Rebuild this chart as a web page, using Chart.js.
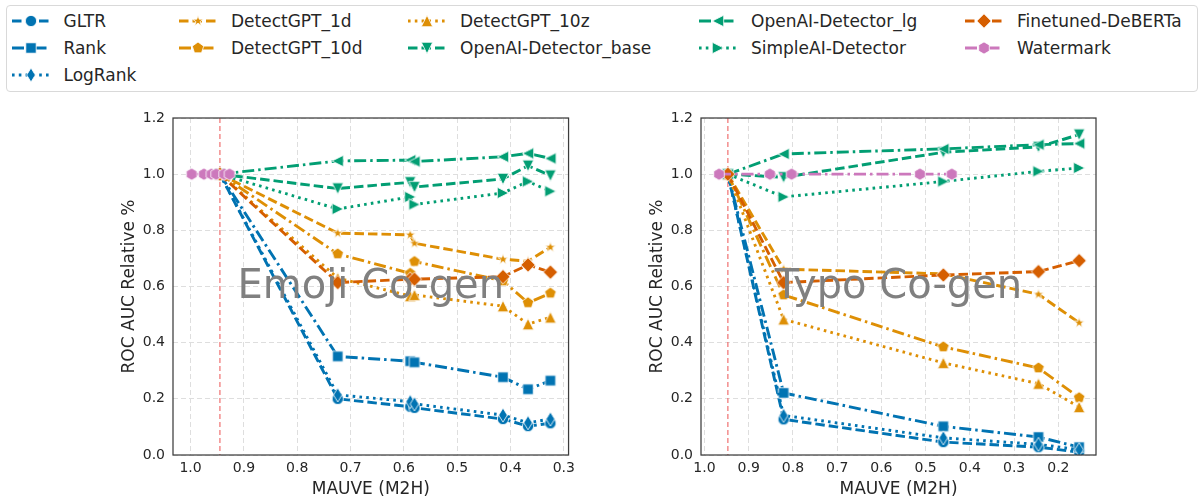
<!DOCTYPE html>
<html>
<head>
<meta charset="utf-8">
<script src="https://cdn.jsdelivr.net/npm/chart.js@4.4.1/dist/chart.umd.min.js"></script>
<style>
html,body{margin:0;padding:0;background:#fff;}
body{width:1203px;height:504px;position:relative;overflow:hidden;font-family:"DejaVu Sans",sans-serif;}
#legendBox{position:absolute;left:6px;top:5px;width:1192px;height:87px;border:1px solid #d9d9d9;border-radius:4px;box-sizing:border-box;}
.lg-item{position:absolute;height:24px;}
.lg-item canvas{position:absolute;left:0;top:0;}
.lg-item span{position:absolute;top:0;line-height:24px;font-size:17px;color:#262626;white-space:nowrap;font-family:"DejaVu Sans",sans-serif;}
.panel{position:absolute;top:100px;}
</style>
</head>
<body>
<div id="legendBox"></div>
<div id="legendItems"></div>
<canvas id="c1" class="panel" width="480" height="404" style="left:100px"></canvas>
<canvas id="c2" class="panel" width="480" height="404" style="left:628px"></canvas>
<script>
// ---------------- DATA ----------------
const SERIES = ['GLTR','Rank','LogRank','DetectGPT_1d','DetectGPT_10d','DetectGPT_10z',
  'OpenAI-Detector_base','OpenAI-Detector_lg','SimpleAI-Detector','Finetuned-DeBERTa','Watermark'];
const PANEL_LABELS = ['Emoji Co-gen','Typo Co-gen'];
const X_TITLE = 'MAUVE (M2H)';
const Y_TITLE = 'ROC AUC Relative %';
const EMOJI_X_TICKS = [1.0,0.9,0.8,0.7,0.6,0.5,0.4,0.3];
const TYPO_X_TICKS = [1.0,0.9,0.8,0.7,0.6,0.5,0.4,0.3,0.2];
const Y_TICKS = [0.0,0.2,0.4,0.6,0.8,1.0,1.2];
const HUMAN_MAUVE_EMOJI = 0.945;
const HUMAN_MAUVE_TYPO = 0.947;

// Emoji co-generation panel
const EMOJI_MAUVE = [0.945, 0.724, 0.588, 0.580, 0.414, 0.367, 0.325];
const EMOJI_WM_MAUVE = [0.998, 0.975, 0.961, 0.952, 0.937, 0.927];
const EMOJI_GLTR    = [1.0, 0.200, 0.172, 0.168, 0.128, 0.103, 0.113];
const EMOJI_RANK    = [1.0, 0.351, 0.334, 0.330, 0.277, 0.234, 0.265];
const EMOJI_LOGRANK = [1.0, 0.214, 0.190, 0.182, 0.142, 0.115, 0.128];
const EMOJI_DGPT_1D = [1.0, 0.790, 0.784, 0.754, 0.697, 0.690, 0.740];
const EMOJI_DGPT_10D= [1.0, 0.716, 0.647, 0.689, 0.620, 0.542, 0.576];
const EMOJI_DGPT_10Z= [1.0, 0.630, 0.566, 0.570, 0.530, 0.466, 0.490];
const EMOJI_OAI_BASE= [1.0, 0.949, 0.971, 0.954, 0.983, 1.030, 0.995];
const EMOJI_OAI_LG  = [1.0, 1.047, 1.050, 1.045, 1.062, 1.074, 1.056];
const EMOJI_SIMPLEAI= [1.0, 0.876, 0.919, 0.892, 0.933, 0.974, 0.939];
const EMOJI_DEBERTA = [1.0, 0.614, 0.626, 0.626, 0.635, 0.677, 0.651];
const EMOJI_WATERMARK=[1.0, 1.0, 1.0, 1.0, 1.0, 1.0];

// Typo co-generation panel
const TYPO_MAUVE = [0.947, 0.821, 0.460, 0.245, 0.153];
const TYPO_WM_MAUVE = [0.967, 0.852, 0.803, 0.513, 0.441];
const TYPO_GLTR    = [1.0, 0.127, 0.046, 0.028, 0.010];
const TYPO_RANK    = [1.0, 0.221, 0.102, 0.064, 0.028];
const TYPO_LOGRANK = [1.0, 0.141, 0.061, 0.038, 0.019];
const TYPO_DGPT_1D = [1.0, 0.662, 0.645, 0.572, 0.471];
const TYPO_DGPT_10D= [1.0, 0.570, 0.385, 0.310, 0.204];
const TYPO_DGPT_10Z= [1.0, 0.483, 0.328, 0.254, 0.171];
const TYPO_OAI_BASE= [1.0, 0.989, 1.078, 1.097, 1.141];
const TYPO_OAI_LG  = [1.0, 1.072, 1.090, 1.105, 1.109];
const TYPO_SIMPLEAI= [1.0, 0.919, 0.974, 1.010, 1.022];
const TYPO_DEBERTA = [1.0, 0.614, 0.641, 0.653, 0.692];
const TYPO_WATERMARK=[1.0, 1.0, 1.0, 1.0, 1.0];

// ---------------- STYLE ----------------
const FONT = '"DejaVu Sans", sans-serif';
const TEXT_COLOR = '#262626';
const COLORS = ['#0173B2','#0173B2','#0173B2','#DE8F05','#DE8F05','#DE8F05','#029E73','#029E73','#029E73','#D55E00','#CC78BC'];
const MARKERS = ['circle','square','thinDiamond','star','pentagon','triangleUp','triangleDown','triangleLeft','triangleRight','diamond','hexagon'];
const LINESTYLES = ['dashed','dashdot','dotted','dashed','dashdot','dotted','dashed','dashdot','dotted','dashed','dashdot'];
const DASHES = {dashed:[9.5,4], dashdot:[12,4,2.5,4], dotted:[2.6,4.2]};
const LINE_W = 2.9;

function poly(ctx, pts){ ctx.moveTo(pts[0][0],pts[0][1]); for(let i=1;i<pts.length;i++) ctx.lineTo(pts[i][0],pts[i][1]); ctx.closePath(); }
function regular(ctx, c, n, R, startDeg){ const pts=[]; for(let i=0;i<n;i++){ const a=(startDeg+i*360/n)*Math.PI/180; pts.push([c+R*Math.cos(a), c+R*Math.sin(a)]);} poly(ctx,pts); }
function makeMarker(shape, color){
  const S = 20, c = S/2;
  const cv = document.createElement('canvas'); cv.width=S; cv.height=S;
  const ctx = cv.getContext('2d');
  ctx.beginPath();
  switch(shape){
    case 'circle': ctx.arc(c,c,5.6,0,Math.PI*2); break;
    case 'square': ctx.rect(c-5.2,c-5.2,10.4,10.4); break;
    case 'thinDiamond': poly(ctx,[[c,c-7],[c+4.3,c],[c,c+7],[c-4.3,c]]); break;
    case 'diamond': poly(ctx,[[c,c-7.2],[c+7.2,c],[c,c+7.2],[c-7.2,c]]); break;
    case 'pentagon': regular(ctx,c,5,6.0,-90); break;
    case 'hexagon': regular(ctx,c,6,6.1,-90); break;
    case 'triangleUp': poly(ctx,[[c,c-5.7],[c+5.7,c+5.7],[c-5.7,c+5.7]]); break;
    case 'triangleDown': poly(ctx,[[c,c+5.7],[c+5.7,c-5.7],[c-5.7,c-5.7]]); break;
    case 'triangleLeft': poly(ctx,[[c-5.7,c],[c+5.7,c-5.7],[c+5.7,c+5.7]]); break;
    case 'triangleRight': poly(ctx,[[c+5.7,c],[c-5.7,c-5.7],[c-5.7,c+5.7]]); break;
    case 'star': {
      const pts=[]; const R=5.6, r=R*0.382;
      for(let i=0;i<10;i++){ const a=(-90+i*36)*Math.PI/180; const rr = i%2===0?R:r; pts.push([c+rr*Math.cos(a), c+rr*Math.sin(a)]); }
      poly(ctx,pts); break; }
  }
  ctx.fillStyle = color; ctx.fill();
  ctx.lineWidth = 0.8; ctx.strokeStyle = '#ffffff'; ctx.stroke();
  return cv;
}
const MARKER_IMGS = SERIES.map((s,i)=>makeMarker(MARKERS[i], COLORS[i]));

function buildDatasets(xs, wmXs, ys){
  return SERIES.map((name,i)=>{
    const xv = (name==='Watermark') ? wmXs : xs;
    const yv = ys[i];
    return {
      label: name,
      data: xv.map((v,j)=>({x:v, y:yv[j]})),
      borderColor: COLORS[i],
      backgroundColor: COLORS[i],
      borderWidth: LINE_W,
      borderDash: DASHES[LINESTYLES[i]],
      borderCapStyle: 'butt',
      pointStyle: MARKER_IMGS[i],
      pointRadius: 5,
      tension: 0,
      fill: false,
      order: SERIES.length - i
    };
  });
}

const refLinePlugin = {
  id:'refLine',
  beforeDatasetsDraw(chart){
    const v = chart.options.plugins.refLine.value;
    const {ctx, chartArea:a} = chart; const x = chart.scales.x.getPixelForValue(v);
    ctx.save(); ctx.strokeStyle='rgba(238,100,100,0.85)'; ctx.lineWidth=1.3; ctx.setLineDash([5,3]);
    ctx.beginPath(); ctx.moveTo(x,a.top); ctx.lineTo(x,a.bottom); ctx.stroke(); ctx.restore();
  }
};
const overlayPlugin = {
  id:'overlay',
  afterDatasetsDraw(chart){
    const t = chart.options.plugins.overlay.text;
    const {ctx, chartArea:a} = chart;
    ctx.save(); ctx.font = '40px ' + FONT; ctx.fillStyle = '#808080';
    ctx.textAlign='center'; ctx.textBaseline='alphabetic';
    ctx.fillText(t, (a.left+a.right)/2, (a.top+a.bottom)/2 + 11.5);
    ctx.restore();
  },
  afterDraw(chart){
    const {ctx, chartArea:a} = chart;
    ctx.save(); ctx.strokeStyle='#3d3d3d'; ctx.lineWidth=1.25; ctx.setLineDash([]);
    ctx.strokeRect(a.left, a.top, a.right-a.left, a.bottom-a.top); ctx.restore();
  }
};

function makeOptions(xMin, xMax, xTicks, rightPad, refV, label){
  const tickFont = {family:FONT, size:14};
  const titleFont = {family:FONT, size:17};
  return {
    responsive:false, animation:false, devicePixelRatio:1,
    layout:{padding:{top:18,right:rightPad,left:0,bottom:0}},
    plugins:{legend:{display:false}, tooltip:{enabled:false}, refLine:{value:refV}, overlay:{text:label}},
    scales:{
      x:{type:'linear', reverse:true, min:xMin, max:xMax,
        afterBuildTicks:s=>{ s.ticks = xTicks.map(v=>({value:v})); },
        afterFit:s=>{ s.height = 49; },
        ticks:{callback:v=>Number(v).toFixed(1), font:tickFont, color:TEXT_COLOR, padding:5, maxRotation:0, autoSkip:false},
        grid:{color:'#dedede', lineWidth:1, drawTicks:false},
        border:{display:false, dash:[5,3]},
        title:{display:true, text:X_TITLE, font:titleFont, color:TEXT_COLOR, padding:{top:0,bottom:4.4}}
      },
      y:{type:'linear', min:0, max:1.2,
        afterBuildTicks:s=>{ s.ticks = Y_TICKS.map(v=>({value:v})); },
        afterFit:s=>{ s.width = 73; },
        ticks:{callback:v=>Number(v).toFixed(1), font:tickFont, color:TEXT_COLOR, padding:8},
        grid:{color:'#dedede', lineWidth:1, drawTicks:false},
        border:{display:false, dash:[5,3]},
        title:{display:true, text:Y_TITLE, font:titleFont, color:TEXT_COLOR, padding:{top:19.8,bottom:0}}
      }
    }
  };
}

new Chart(document.getElementById('c1'), {
  type:'line',
  data:{datasets: buildDatasets(EMOJI_MAUVE, EMOJI_WM_MAUVE,
    [EMOJI_GLTR,EMOJI_RANK,EMOJI_LOGRANK,EMOJI_DGPT_1D,EMOJI_DGPT_10D,EMOJI_DGPT_10Z,EMOJI_OAI_BASE,EMOJI_OAI_LG,EMOJI_SIMPLEAI,EMOJI_DEBERTA,EMOJI_WATERMARK])},
  options: makeOptions(0.291, 1.033, EMOJI_X_TICKS, 9, HUMAN_MAUVE_EMOJI, PANEL_LABELS[0]),
  plugins:[refLinePlugin, overlayPlugin]
});
new Chart(document.getElementById('c2'), {
  type:'line',
  data:{datasets: buildDatasets(TYPO_MAUVE, TYPO_WM_MAUVE,
    [TYPO_GLTR,TYPO_RANK,TYPO_LOGRANK,TYPO_DGPT_1D,TYPO_DGPT_10D,TYPO_DGPT_10Z,TYPO_OAI_BASE,TYPO_OAI_LG,TYPO_SIMPLEAI,TYPO_DEBERTA,TYPO_WATERMARK])},
  options: makeOptions(0.115, 1.0077, TYPO_X_TICKS, 12, HUMAN_MAUVE_TYPO, PANEL_LABELS[1]),
  plugins:[refLinePlugin, overlayPlugin]
});

// ---------------- LEGEND (HTML) ----------------
const LEGEND_COLS_X = [63.5, 231, 460, 751, 1017];
const LEGEND_ROWS_Y = [21, 48, 75];
const LEGEND_SLOTS = [[0,0],[0,1],[0,2],[1,0],[1,1],[2,0],[2,1],[3,0],[3,1],[4,0],[4,1]];
const holder = document.getElementById('legendItems');
SERIES.forEach((name,i)=>{
  const [col,row] = LEGEND_SLOTS[i];
  const tx = LEGEND_COLS_X[col], cy = LEGEND_ROWS_Y[row];
  const item = document.createElement('div'); item.className='lg-item';
  item.style.left = (tx-52)+'px'; item.style.top = (cy-12)+'px';
  const cv = document.createElement('canvas'); cv.width=40; cv.height=24;
  const ctx = cv.getContext('2d');
  ctx.strokeStyle = COLORS[i]; ctx.lineWidth = LINE_W; ctx.setLineDash(DASHES[LINESTYLES[i]]); ctx.lineCap='butt';
  ctx.beginPath(); ctx.moveTo(0,12); ctx.lineTo(38,12); ctx.stroke();
  ctx.drawImage(MARKER_IMGS[i], 19-10, 12-10);
  const sp = document.createElement('span'); sp.textContent = name; sp.style.left='52px';
  item.appendChild(cv); item.appendChild(sp); holder.appendChild(item);
});
</script>
</body>
</html>
